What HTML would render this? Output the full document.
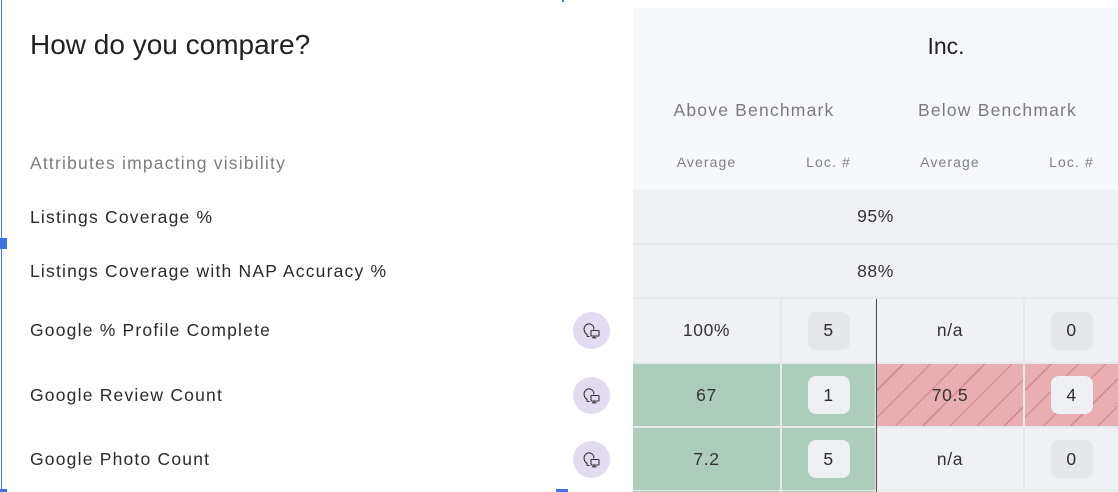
<!DOCTYPE html>
<html>
<head>
<meta charset="utf-8">
<style>
  html, body { margin:0; padding:0; }
  body { width:1118px; height:492px; overflow:hidden; background:#ffffff; position:relative;
         font-family:"Liberation Sans", Arial, sans-serif; }
  .abs { position:absolute; }
  .t { position:absolute; white-space:nowrap; }
  .lbl { position:absolute; left:30px; height:24px; line-height:24px; font-size:17.5px; letter-spacing:1.2px; color:#2b2b2b; white-space:nowrap; }
  .cell { position:absolute; display:flex; align-items:center; justify-content:center; font-size:17.5px; letter-spacing:0.6px; color:#333; }
  .badge { width:42px; height:38px; border-radius:8px; background:#e6e7eb; display:flex; align-items:center; justify-content:center; font-size:17.5px; color:#2e2e2e; }
  .badge.light { background:#eff0f3; }
  .green { background:#accdbc; }
  .grey { background:#f0f1f5; }
  .pink { background-color:#e8aeb3;
          background-image:repeating-linear-gradient(135deg, rgba(0,0,0,0) 0px, rgba(0,0,0,0) 18px, #d4868f 18px, #d4868f 19.2px); }
  .icon { position:absolute; left:573px; width:37px; height:37px; }
</style>
</head>
<body>
  <!-- blue selection marks -->
  <div class="abs" style="left:1px;top:0;width:1px;height:492px;background:#3f73e0;"></div>
  <div class="abs" style="left:0;top:238px;width:7px;height:11px;background:#3f73e0;"></div>
  <div class="abs" style="left:0;top:489px;width:7px;height:3px;background:#3f73e0;"></div>
  <div class="abs" style="left:556px;top:489px;width:12px;height:3px;background:#3f73e0;"></div>
  <div class="abs" style="left:562px;top:0;width:2px;height:2px;background:#3f73e0;"></div>

  <!-- left side -->
  <div class="t" style="left:30px;top:29px;height:32px;line-height:32px;font-size:28px;color:#222;">How do you compare?</div>
  <div class="lbl" style="top:151px;color:#7d7d7d;">Attributes impacting visibility</div>
  <div class="lbl" style="top:205px;">Listings Coverage %</div>
  <div class="lbl" style="top:259px;">Listings Coverage with NAP Accuracy %</div>
  <div class="lbl" style="top:318px;">Google % Profile Complete</div>
  <div class="lbl" style="top:383px;">Google Review Count</div>
  <div class="lbl" style="top:447px;">Google Photo Count</div>

  <!-- icons -->
  <svg class="icon" style="top:312px;" viewBox="0 0 37 37">
    <circle cx="18.5" cy="18.5" r="18.5" fill="#e2dbf2"/>
    <g fill="none" stroke="#333" stroke-width="1.1" stroke-linecap="round" stroke-linejoin="round">
      <path d="M14 22.5 C11 20.5 10.5 17 11.5 14.8 C12.7 12.2 15.5 11.3 17.8 12.2 C19.8 13 21 15 20.8 17"/>
      <path d="M14 22.5 L14.3 24.5 L16.2 24.5"/>
      <rect x="18" y="18.5" width="8" height="5.5" rx="0.6"/>
      <path d="M21 24 L21 25.8 M19.5 25.8 L23 25.8"/>
    </g>
  </svg>
  <svg class="icon" style="top:377px;" viewBox="0 0 37 37">
    <circle cx="18.5" cy="18.5" r="18.5" fill="#e2dbf2"/>
    <g fill="none" stroke="#333" stroke-width="1.1" stroke-linecap="round" stroke-linejoin="round">
      <path d="M14 22.5 C11 20.5 10.5 17 11.5 14.8 C12.7 12.2 15.5 11.3 17.8 12.2 C19.8 13 21 15 20.8 17"/>
      <path d="M14 22.5 L14.3 24.5 L16.2 24.5"/>
      <rect x="18" y="18.5" width="8" height="5.5" rx="0.6"/>
      <path d="M21 24 L21 25.8 M19.5 25.8 L23 25.8"/>
    </g>
  </svg>
  <svg class="icon" style="top:441px;" viewBox="0 0 37 37">
    <circle cx="18.5" cy="18.5" r="18.5" fill="#e2dbf2"/>
    <g fill="none" stroke="#333" stroke-width="1.1" stroke-linecap="round" stroke-linejoin="round">
      <path d="M14 22.5 C11 20.5 10.5 17 11.5 14.8 C12.7 12.2 15.5 11.3 17.8 12.2 C19.8 13 21 15 20.8 17"/>
      <path d="M14 22.5 L14.3 24.5 L16.2 24.5"/>
      <rect x="18" y="18.5" width="8" height="5.5" rx="0.6"/>
      <path d="M21 24 L21 25.8 M19.5 25.8 L23 25.8"/>
    </g>
  </svg>

  <!-- right panel header -->
  <div class="abs" style="left:633px;top:8px;width:485px;height:181px;background:#f7f8fc;"></div>
  <div class="t" style="left:846px;top:32px;width:200px;text-align:center;height:28px;line-height:28px;font-size:23px;color:#222;">Inc.</div>
  <div class="t" style="left:633px;top:98px;width:242px;text-align:center;height:24px;line-height:24px;font-size:17.5px;letter-spacing:1.2px;color:#7b7b7b;">Above Benchmark</div>
  <div class="t" style="left:877px;top:98px;width:241px;text-align:center;height:24px;line-height:24px;font-size:17.5px;letter-spacing:1.2px;color:#7b7b7b;">Below Benchmark</div>
  <div class="t" style="left:633px;top:152px;width:147px;text-align:center;height:20px;line-height:20px;font-size:14px;letter-spacing:1.1px;color:#808080;">Average</div>
  <div class="t" style="left:782px;top:152px;width:93px;text-align:center;height:20px;line-height:20px;font-size:14px;letter-spacing:1.1px;color:#808080;">Loc. #</div>
  <div class="t" style="left:877px;top:152px;width:146px;text-align:center;height:20px;line-height:20px;font-size:14px;letter-spacing:1.1px;color:#808080;">Average</div>
  <div class="t" style="left:1025px;top:152px;width:93px;text-align:center;height:20px;line-height:20px;font-size:14px;letter-spacing:1.1px;color:#808080;">Loc. #</div>

  <!-- grid background / separators -->
  <div class="abs" style="left:633px;top:189px;width:485px;height:303px;background:#e7e8ec;"></div>

  <!-- row 1 & 2 (spanning) -->
  <div class="cell grey" style="left:633px;top:189px;width:485px;height:54px;">95%</div>
  <div class="cell grey" style="left:633px;top:245px;width:485px;height:52px;">88%</div>

  <!-- row 3 -->
  <div class="cell grey" style="left:633px;top:299px;width:147px;height:63px;">100%</div>
  <div class="cell grey" style="left:782px;top:299px;width:93px;height:63px;"><div class="badge">5</div></div>
  <div class="cell grey" style="left:877px;top:299px;width:146px;height:63px;">n/a</div>
  <div class="cell grey" style="left:1025px;top:299px;width:93px;height:63px;"><div class="badge">0</div></div>

  <!-- row 4 -->
  <div class="cell green" style="left:633px;top:364px;width:147px;height:62px;">67</div>
  <div class="cell green" style="left:782px;top:364px;width:93px;height:62px;"><div class="badge light">1</div></div>
  <div class="cell pink" style="left:877px;top:364px;width:146px;height:62px;">70.5</div>
  <div class="cell pink" style="left:1025px;top:364px;width:93px;height:62px;"><div class="badge light">4</div></div>

  <!-- row 5 -->
  <div class="cell green" style="left:633px;top:428px;width:147px;height:62px;">7.2</div>
  <div class="cell green" style="left:782px;top:428px;width:93px;height:62px;"><div class="badge light">5</div></div>
  <div class="cell grey" style="left:877px;top:428px;width:146px;height:62px;">n/a</div>
  <div class="cell grey" style="left:1025px;top:428px;width:93px;height:62px;"><div class="badge">0</div></div>

  <!-- row 6 (cut off) -->
  <div class="abs green" style="left:633px;top:491px;width:147px;height:1px;"></div>
  <div class="abs green" style="left:782px;top:491px;width:93px;height:1px;"></div>
  <div class="abs grey" style="left:877px;top:491px;width:241px;height:1px;"></div>

  <!-- dark divider -->
  <div class="abs" style="left:875px;top:299px;width:2px;height:193px;background:#e7e8ec;"></div>
  <div class="abs" style="left:875.5px;top:299px;width:1.3px;height:193px;background:#4a4a4a;"></div>
</body>
</html>
